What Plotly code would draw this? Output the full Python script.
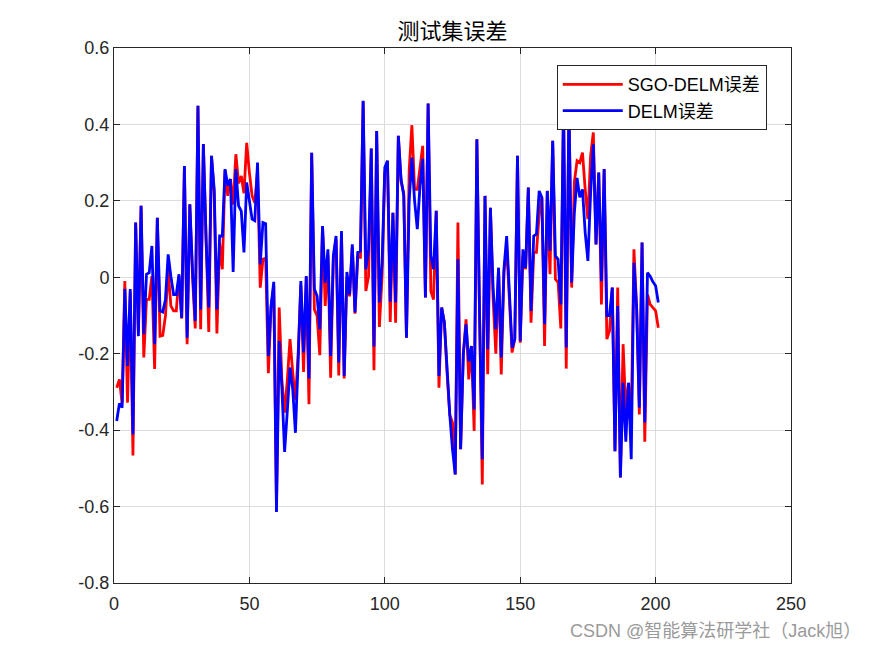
import plotly.graph_objects as go

# test-set error of the two models, sample index 1..201
idx = list(range(1, 202))

err_sgo_delm = [
    -0.289, -0.267, -0.33, -0.01, -0.328, -0.04, -0.466, 0.143, -0.143, 0.187,
    -0.21, -0.058, -0.058, 0.003, -0.24, 0.156, -0.154, -0.152, -0.101, 0.02,
    -0.075, -0.088, -0.088, 0.003, -0.108, 0.29, -0.175, 0.191, 0.0, -0.134,
    0.449, -0.136, 0.349, 0.08, -0.143, 0.318, 0.22, -0.147, 0.09, 0.021,
    0.28, 0.213, 0.257, 0.19, 0.322, 0.246, 0.265, 0.22, 0.352, 0.274,
    0.213, 0.195, 0.28, -0.027, 0.047, 0.05, -0.251, -0.08, -0.02, -0.6,
    -0.079, -0.27, -0.354, -0.27, -0.162, -0.25, -0.32, -0.2, -0.02, -0.248,
    0.0, -0.332, 0.326, -0.084, -0.101, -0.204, 0.134, -0.075, 0.06, -0.263,
    0.05, 0.1, -0.257, 0.115, -0.265, 0.0, -0.05, 0.08, -0.095, 0.052,
    0.052, 0.46, -0.036, 0.003, 0.337, -0.243, 0.383, -0.13, 0.003, 0.274,
    0.305, -0.117, 0.169, -0.119, 0.37, 0.25, 0.221, -0.158, 0.28, 0.398,
    0.23, 0.23, 0.29, 0.344, -0.053, 0.455, -0.036, -0.058, 0.174, -0.289,
    -0.079, -0.119, -0.25, -0.36, -0.38, -0.516, 0.143, -0.45, -0.2, -0.11,
    -0.267, -0.18, -0.402, 0.361, -0.1, -0.542, 0.213, -0.254, 0.182, -0.058,
    -0.2, 0.025, -0.254, 0.012, 0.082, -0.06, -0.197, -0.162, 0.318, -0.171,
    0.056, 0.021, 0.235, -0.119, 0.065, 0.065, 0.165, 0.209, -0.18, 0.226,
    0.008, 0.357, -0.005, -0.013, -0.134, 0.45, -0.239, 0.45, -0.027, 0.25,
    0.305, 0.30, 0.326, 0.23, 0.152, 0.318, 0.379, 0.086, 0.274, -0.071,
    0.283, -0.162, -0.14, -0.027, -0.455, -0.027, -0.524, -0.175, -0.35, -0.276,
    -0.38, 0.073, -0.08, -0.359, 0.091, -0.43, -0.045, -0.071, -0.079, -0.088,
    -0.132,
]

err_delm = [
    -0.376, -0.33, -0.341, -0.031, -0.232, -0.031, -0.411, 0.143, -0.154, 0.187,
    -0.149, 0.008, 0.012, 0.082, -0.175, 0.156, -0.088, -0.091, -0.058, 0.06,
    0.003, -0.045, -0.045, 0.008, -0.106, 0.291, -0.158, 0.191, 0.017, -0.114,
    0.449, -0.084, 0.349, 0.1, -0.079, 0.318, 0.23, -0.084, 0.108, 0.108,
    0.283, 0.24, 0.257, 0.014, 0.283, 0.187, 0.173, 0.065, 0.248, 0.204,
    0.152, 0.148, 0.30, 0.034, 0.143, 0.14, -0.206, -0.075, -0.012, -0.614,
    -0.167, -0.29, -0.457, -0.35, -0.236, -0.293, -0.407, -0.22, -0.01, -0.197,
    0.003, -0.265, 0.326, -0.031, -0.049, -0.136, 0.134, -0.014, 0.073, -0.206,
    0.056, 0.108, -0.223, 0.121, -0.258, 0.014, -0.045, 0.086, -0.092, 0.065,
    0.069, 0.462, 0.021, 0.073, 0.337, -0.181, 0.383, -0.066, 0.038, 0.287,
    0.305, -0.064, 0.169, -0.066, 0.37, 0.257, 0.213, -0.158, 0.20, 0.313,
    0.20, 0.126, 0.24, 0.31, -0.053, 0.455, 0.056, 0.021, 0.174, -0.258,
    -0.079, -0.119, -0.25, -0.36, -0.45, -0.516, 0.047, -0.45, -0.2, -0.123,
    -0.22, -0.18, -0.346, 0.361, -0.1, -0.476, 0.213, -0.188, 0.182, -0.03,
    -0.136, 0.025, -0.21, 0.021, 0.108, -0.05, -0.184, -0.162, 0.318, -0.167,
    0.073, 0.025, 0.235, -0.088, 0.108, 0.113, 0.226, 0.209, -0.123, 0.226,
    0.069, 0.357, 0.056, 0.047, -0.071, 0.45, -0.184, 0.45, -0.014, 0.169,
    0.26, 0.209, 0.23, 0.117, 0.043, 0.22, 0.348, 0.086, 0.274, -0.01,
    0.283, -0.10, -0.10, -0.027, -0.455, -0.075, -0.524, -0.276, -0.43, -0.276,
    -0.476, 0.038, -0.08, -0.341, 0.091, -0.38, 0.012, 0.003, -0.012, -0.022,
    -0.066,
]

x_ticks = [0, 50, 100, 150, 200, 250]
y_ticks = [-0.8, -0.6, -0.4, -0.2, 0, 0.2, 0.4, 0.6]
y_labels = ["-0.8", "-0.6", "-0.4", "-0.2", "0", "0.2", "0.4", "0.6"]

FONT = dict(family="Liberation Sans, Arial, Noto Sans CJK SC, sans-serif", color="#262626")
CJK = "Liberation Sans, Noto Sans CJK SC, sans-serif"

fig = go.Figure()
fig.add_trace(go.Scatter(x=idx, y=err_sgo_delm, mode="lines", name="SGO-DELM误差",
                         line=dict(color="#FF0000", width=2.8)))
fig.add_trace(go.Scatter(x=idx, y=err_delm, mode="lines", name="DELM误差",
                         line=dict(color="#0000FF", width=2.8)))

# the page body has an 8px margin, so the plot box is shifted back by 8px
fig.update_layout(
    width=875,
    height=656,
    font=FONT,
    plot_bgcolor="white",
    paper_bgcolor="white",
    margin=dict(l=106, r=92, t=40, b=81),
    title=dict(text="测试集误差", xref="paper", x=0.5, xanchor="center",
               y=0.965, yanchor="middle",
               font=dict(family=CJK, size=22, color="#000000")),
    legend=dict(x=0.654, y=0.968, xanchor="left", yanchor="top",
                bordercolor="#262626", borderwidth=1, bgcolor="white",
                font=dict(family=CJK, size=18, color="#000000"),
                itemwidth=60, tracegroupgap=0),
    showlegend=True,
)

fig.update_xaxes(
    range=[0, 250], tickvals=x_ticks, showgrid=True, gridcolor="#DCDCDC", gridwidth=1,
    showline=True, linecolor="#262626", linewidth=1, mirror="allticks",
    ticks="inside", ticklen=6, tickcolor="#262626", zeroline=False,
    tickfont=dict(size=18), ticklabelstandoff=4,
)
fig.update_yaxes(
    range=[-0.8, 0.6], tickvals=y_ticks, ticktext=y_labels, showgrid=True,
    gridcolor="#DCDCDC", gridwidth=1, showline=True, linecolor="#262626", linewidth=1,
    mirror="allticks", ticks="inside", ticklen=6, tickcolor="#262626", zeroline=False,
    tickfont=dict(size=18),
)

fig.add_annotation(
    text="CSDN @智能算法研学社（Jack旭）", xref="paper", yref="paper",
    x=1.107, y=-0.0897, xanchor="right", yanchor="middle", showarrow=False,
    font=dict(family=CJK, size=18, color="#9A9A9A"),
)

fig.write_html("out.html")
